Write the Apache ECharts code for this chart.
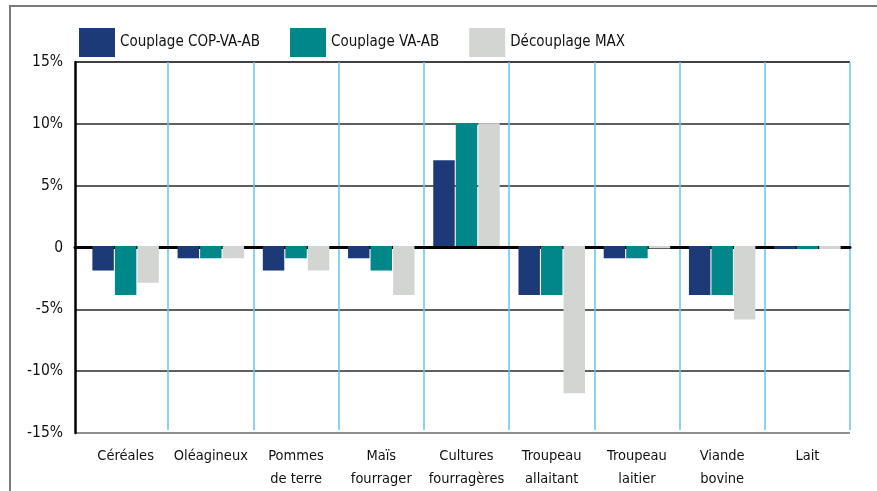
<!DOCTYPE html>
<html>
<head>
<meta charset="utf-8">
<script src="https://cdn.jsdelivr.net/npm/echarts@6/dist/echarts.min.js"></script>
<style>
	body { margin: 0; background: #fff; }
	.wrap { position: relative; width: 877px; height: 491px; overflow: hidden; }
	.frame { position: absolute; left: 9px; top: 5px; right: 0; bottom: 0; border-top: 2px solid #7a7a7a; border-left: 2px solid #7a7a7a; }
	#chart { position: absolute; left: 0; top: 0; width: 877px; height: 491px; }
</style>
</head>
<body>
<div class="wrap">
	<div class="frame"></div>
	<div id="chart"></div>
</div>
<script>
const categories = ['Céréales', 'Oléagineux', 'Pommes\nde terre', 'Maïs\nfourrager', 'Cultures\nfourragères', 'Troupeau\nallaitant', 'Troupeau\nlaitier', 'Viande\nbovine', 'Lait'];
const seriesNames = ['Couplage COP-VA-AB', 'Couplage VA-AB', 'Découplage MAX'];
const copVaAb = [-2, -1, -2, -1, 7, -4, -1, -4, -0.25];
const vaAb = [-4, -1, -1, -2, 10, -4, -1, -4, -0.25];
const decouplageMax = [-3, -1, -2, -4, 10, -12, -0.2, -6, -0.25];
const yTicks = [-15, -10, -5, 0, 5, 10, 15];

( function() {

	const font = "'Liberation Sans Narrow', 'DejaVu Sans Condensed', sans-serif";
	const colors = ['#1d3a78', '#00878a', '#d3d5d3'];
	const values = [copVaAb, vaAb, decouplageMax];

	// first split line sits on the y axis, hide it
	const splitColors = categories.map((c, i) => i === 0 ? 'rgba(0,0,0,0)' : '#62c6f0');
	splitColors.push('#62c6f0');

	// bottom line grey, top line black
	const hLineColors = yTicks.map((t, i) => i === 0 ? '#6a6a6a' : (i === yTicks.length - 1 ? '#000' : '#2a2a2a'));

	const yMin = yTicks[0];
	const yMax = yTicks[yTicks.length - 1];

	const option = {
		animation: false,
		color: colors,
		legend: {
			data: seriesNames,
			icon: 'rect',
			left: 74,
			top: 23,
			itemWidth: 36,
			itemHeight: 29,
			itemGap: 30,
			textStyle: { fontFamily: font, fontSize: 15, color: '#111' }
		},
		grid: [
			{ left: 75, right: 27, top: 62, bottom: 58 },
			{ left: 83, right: 27, top: 62, bottom: 58 }
		],
		xAxis: [
			{
				gridIndex: 0, type: 'value', min: 0, max: 1,
				axisLine: { show: true, onZero: true, lineStyle: { color: '#000', width: 3 } },
				axisTick: { show: false }, axisLabel: { show: false }, splitLine: { show: false }
			},
			{
				gridIndex: 1, type: 'category', data: categories,
				axisLine: { show: false },
				axisTick: { show: false },
				axisLabel: { interval: 0, margin: 15, fontFamily: font, fontSize: 14.5, lineHeight: 23, color: '#111' },
				splitLine: { show: true, interval: 0, lineStyle: { color: splitColors, width: 1.5 } }
			}
		],
		yAxis: [
			{
				gridIndex: 0, type: 'value', min: yMin, max: yMax, interval: 5,
				axisLine: { show: true, onZero: false, lineStyle: { color: '#000', width: 2.5 } },
				axisTick: { show: false },
				axisLabel: {
					margin: 12, fontFamily: font, fontSize: 15.5, color: '#111',
					formatter: v => v === 0 ? '0' : v + '%'
				},
				splitLine: { show: true, lineStyle: { color: hLineColors, width: 1.5 } }
			},
			{ gridIndex: 1, type: 'value', min: yMin, max: yMax, show: false }
		],
		series: seriesNames.map((name, i) => ({
			name: name,
			type: 'bar',
			xAxisIndex: 1,
			yAxisIndex: 1,
			data: values[i],
			barGap: '5%',
			barCategoryGap: '22%',
			itemStyle: { color: colors[i] }
		}))
	};

	const chart = echarts.init(document.getElementById('chart'));
	chart.setOption(option);

}() );
</script>
</body>
</html>
